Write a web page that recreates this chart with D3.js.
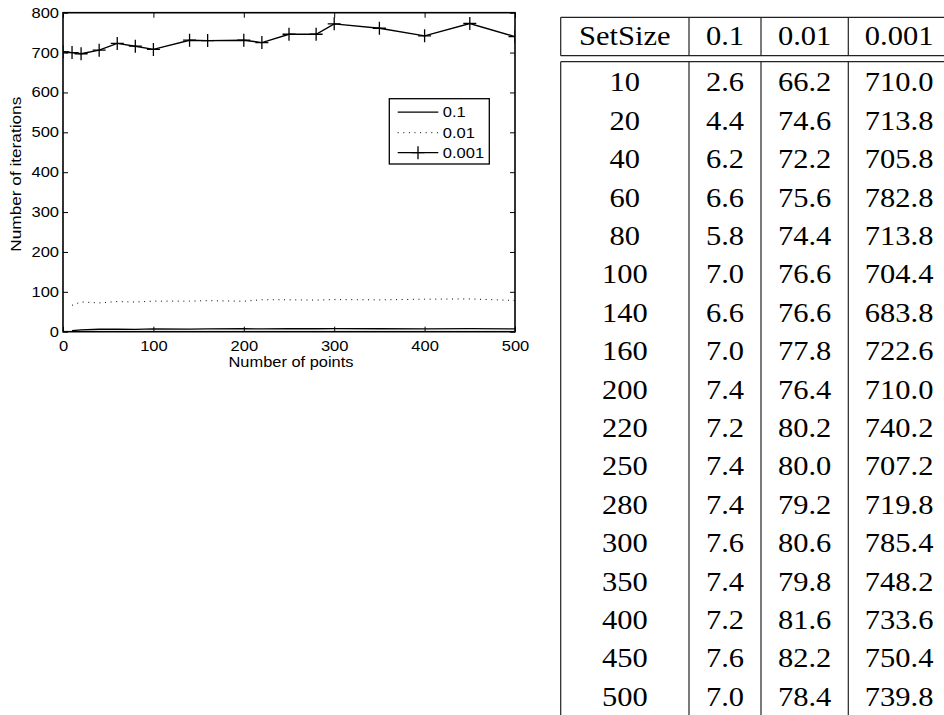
<!DOCTYPE html>
<html>
<head>
<meta charset="utf-8">
<script src="https://cdn.jsdelivr.net/npm/d3@7"></script>
<style>
  html, body { margin: 0; padding: 0; background: #fff; }
  svg { display: block; }
</style>
</head>
<body>
<script>
// ---- data ----
const setSizes = [10, 20, 40, 60, 80, 100, 140, 160, 200, 220, 250, 280, 300, 350, 400, 450, 500];
const iterTol1 = [2.6, 4.4, 6.2, 6.6, 5.8, 7.0, 6.6, 7.0, 7.4, 7.2, 7.4, 7.4, 7.6, 7.4, 7.2, 7.6, 7.0];
const iterTol2 = [66.2, 74.6, 72.2, 75.6, 74.4, 76.6, 76.6, 77.8, 76.4, 80.2, 80.0, 79.2, 80.6, 79.8, 81.6, 82.2, 78.4];
const iterTol3 = [710.0, 713.8, 705.8, 782.8, 713.8, 704.4, 683.8, 722.6, 710.0, 740.2, 707.2, 719.8, 785.4, 748.2, 733.6, 750.4, 739.8];

// curve plotted for tolerance 0.001
const curvePoints = [0, 10, 20, 40, 60, 80, 100, 140, 160, 200, 220, 250, 280, 300, 350, 400, 450, 500];
const curveTol3 = [702, 700, 697, 706, 723, 716, 708, 731, 730, 731, 725, 746, 746, 772, 761, 742, 773, 740];

const xTicks = [0, 100, 200, 300, 400, 500];
const yTicks = [0, 100, 200, 300, 400, 500, 600, 700, 800];
const legendLabels = ["0.1", "0.01", "0.001"];
const tableHeader = ["SetSize", "0.1", "0.01", "0.001"];

// ---- layout ----
const W = 944, H = 715;
const plot = { left: 63, right: 515, top: 12.7, bottom: 331.7 };
const sansFont = "Liberation Sans";
const serifFont = "Liberation Serif";
const sansStretch = 1.18;

const svg = d3.select("body").append("svg")
  .attr("width", W).attr("height", H);

const x = d3.scaleLinear().domain([0, 500]).range([plot.left, plot.right]);
const y = d3.scaleLinear().domain([0, 800]).range([plot.bottom, plot.top]);

svg.append("clipPath").attr("id", "plot-clip")
  .append("rect")
  .attr("x", plot.left).attr("y", plot.top)
  .attr("width", plot.right - plot.left).attr("height", plot.bottom - plot.top);

// ---- axes (ticks pointing inward on all four sides) ----
function styleAxis(g) {
  g.attr("font-family", sansFont).attr("font-size", 14);
  g.select(".domain").remove();
  g.selectAll(".tick line").attr("stroke", "#000").attr("stroke-width", 1);
  g.selectAll(".tick text").attr("fill", "#000");
}

const gx = svg.append("g")
  .attr("transform", `translate(0,${plot.bottom})`)
  .call(d3.axisBottom(x).tickValues(xTicks).tickSizeInner(-5).tickSizeOuter(0).tickPadding(9))
  .call(styleAxis);
gx.selectAll(".tick text").attr("transform", `scale(${sansStretch},1)`);

const gy = svg.append("g")
  .attr("transform", `translate(${plot.left},0)`)
  .call(d3.axisLeft(y).tickValues(yTicks).tickSizeInner(-5).tickSizeOuter(0).tickPadding(4))
  .call(styleAxis);
gy.selectAll(".tick text")
  .attr("x", -4 / sansStretch)
  .attr("transform", `scale(${sansStretch},1)`);

svg.append("g")
  .attr("transform", `translate(0,${plot.top})`)
  .call(d3.axisTop(x).tickValues(xTicks).tickSizeInner(-5).tickSizeOuter(0).tickFormat(""))
  .call(styleAxis);

svg.append("g")
  .attr("transform", `translate(${plot.right},0)`)
  .call(d3.axisRight(y).tickValues(yTicks).tickSizeInner(-5).tickSizeOuter(0).tickFormat(""))
  .call(styleAxis);

// axes box
svg.append("rect")
  .attr("x", plot.left).attr("y", plot.top)
  .attr("width", plot.right - plot.left).attr("height", plot.bottom - plot.top)
  .attr("fill", "none").attr("stroke", "#000").attr("stroke-width", 1.6);

// axis titles
svg.append("text")
  .attr("x", (plot.left + plot.right) / 2 + 2).attr("y", 367)
  .attr("text-anchor", "middle")
  .attr("textLength", 125).attr("lengthAdjust", "spacingAndGlyphs")
  .attr("font-family", sansFont).attr("font-size", 14)
  .text("Number of points");

svg.append("text")
  .attr("transform", `translate(21,${(plot.top + plot.bottom) / 2 + 2}) rotate(-90)`)
  .attr("text-anchor", "middle")
  .attr("textLength", 155).attr("lengthAdjust", "spacingAndGlyphs")
  .attr("font-family", sansFont).attr("font-size", 14)
  .text("Number of iterations");

// ---- series ----
const lineGen = d3.line().x(d => x(d[0])).y(d => y(d[1]));
const series = svg.append("g").attr("clip-path", "url(#plot-clip)");

series.append("path")
  .datum(d3.zip(setSizes, iterTol1))
  .attr("d", lineGen)
  .attr("fill", "none").attr("stroke", "#000").attr("stroke-width", 1.3);

series.append("path")
  .datum(d3.zip(setSizes, iterTol2))
  .attr("d", lineGen)
  .attr("fill", "none").attr("stroke", "#000").attr("stroke-width", 1)
  .attr("stroke-dasharray", "1,4.6");

const curve = d3.zip(curvePoints, curveTol3);
series.append("path")
  .datum(curve)
  .attr("d", lineGen)
  .attr("fill", "none").attr("stroke", "#000").attr("stroke-width", 1.4);

const plusPath = s => `M${-s},0H${s}M0,${-s}V${s}`;
series.selectAll(".plus")
  .data(curve)
  .join("path")
  .attr("class", "plus")
  .attr("transform", d => `translate(${x(d[0])},${y(d[1])})`)
  .attr("d", plusPath(6.5))
  .attr("fill", "none").attr("stroke", "#000").attr("stroke-width", 1.3);

// ---- legend ----
const legend = svg.append("g").attr("transform", "translate(389.3,98.7)");
legend.append("rect")
  .attr("width", 100).attr("height", 65.3)
  .attr("fill", "#fff").attr("stroke", "#000").attr("stroke-width", 1.3);

const legendRows = [13.5, 34, 54];
legendLabels.forEach((lab, i) => {
  const ly = legendRows[i];
  const ln = legend.append("line")
    .attr("x1", 8.4).attr("x2", 49).attr("y1", ly).attr("y2", ly)
    .attr("stroke", "#000").attr("stroke-width", i === 1 ? 1 : 1.3);
  if (i === 1) ln.attr("stroke-dasharray", "1,4.6");
  if (i === 2) {
    legend.append("path")
      .attr("transform", `translate(28.7,${ly})`)
      .attr("d", plusPath(6.5))
      .attr("stroke", "#000").attr("stroke-width", 1.3);
  }
  legend.append("text")
    .attr("transform", `translate(53.5,${ly + 5}) scale(${sansStretch},1)`)
    .attr("font-family", sansFont).attr("font-size", 14)
    .text(lab);
});

// ---- table ----
const tbl = svg.append("g");
const colEdges = [560.7, 689, 761, 848.3, 950];
const colCenters = d3.range(4).map(i => (colEdges[i] + colEdges[i + 1]) / 2);
const headTop = 17.3, headBottom = 55.7, bodyTop = 61.7;
const rowStart = 82.3, rowStep = 38.4;
const serifSize = 27, serifStretch = 1.13;
const lineColor = "#222";

[headTop, headBottom, bodyTop].forEach(ly => {
  tbl.append("line")
    .attr("x1", colEdges[0]).attr("x2", colEdges[4])
    .attr("y1", ly).attr("y2", ly)
    .attr("stroke", lineColor).attr("stroke-width", 1.2);
});
colEdges.forEach(cx => {
  tbl.append("line")
    .attr("x1", cx).attr("x2", cx).attr("y1", headTop).attr("y2", headBottom)
    .attr("stroke", lineColor).attr("stroke-width", 1.2);
  tbl.append("line")
    .attr("x1", cx).attr("x2", cx).attr("y1", bodyTop).attr("y2", H)
    .attr("stroke", lineColor).attr("stroke-width", 1.2);
});

function cellText(cx, cy, str) {
  tbl.append("text")
    .attr("transform", `translate(${cx},${cy + serifSize * 0.338}) scale(${serifStretch},1)`)
    .attr("text-anchor", "middle")
    .attr("font-family", serifFont).attr("font-size", serifSize)
    .attr("fill", "#000")
    .text(str);
}

tableHeader.forEach((h, i) => cellText(colCenters[i], 35.5, h));

setSizes.forEach((s, r) => {
  const cy = rowStart + r * rowStep;
  const cells = [String(s), iterTol1[r].toFixed(1), iterTol2[r].toFixed(1), iterTol3[r].toFixed(1)];
  cells.forEach((c, i) => cellText(colCenters[i], cy, c));
});
</script>
</body>
</html>
